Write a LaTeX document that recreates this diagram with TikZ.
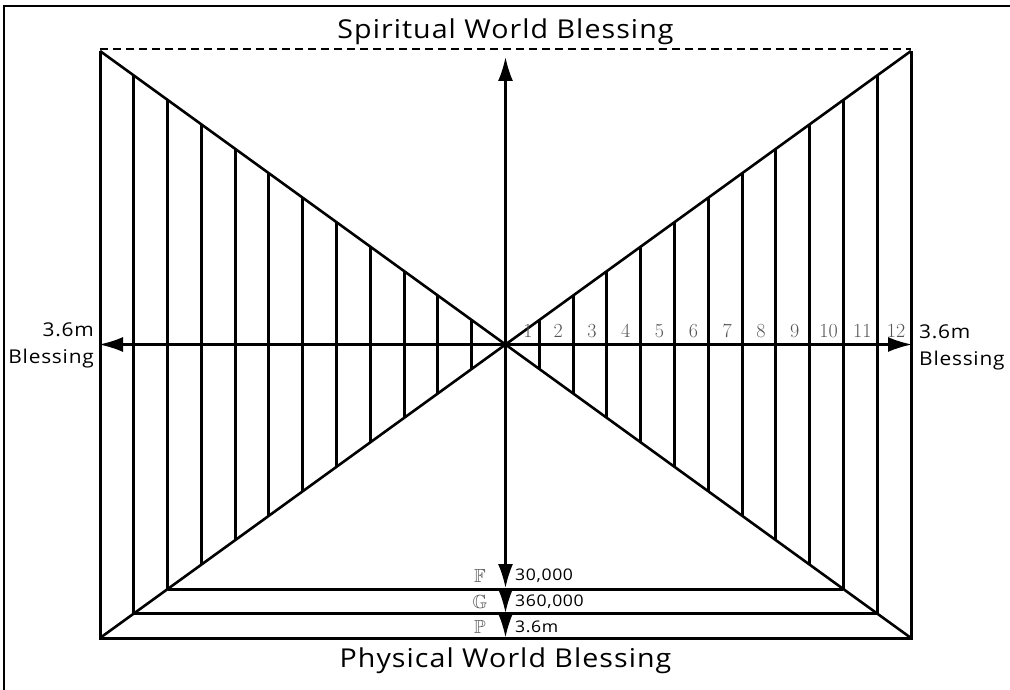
\documentclass[tikz,border=0pt]{standalone}
\usepackage{fontspec}
\usepackage{amssymb}
\newfontfamily\sansf[FakeStretch=1.1,LetterSpace=4]{Open Sans}
\usetikzlibrary{arrows.meta}
\definecolor{numgray}{RGB}{85,85,85}
\begin{document}
\begin{tikzpicture}[x=1pt,y=-1pt]
\useasboundingbox (0,0) rectangle (1010,690);
\tikzset{
  mainline/.style={line width=3pt},
  thinline/.style={line width=2.6pt},
  arr/.style={line width=2.2pt,-{Latex[length=24pt,width=15pt]}},
  bigtext/.style={font=\sansf\fontsize{26}{30}\selectfont, inner sep=1pt},
  sidetext/.style={font=\sansf\fontsize{19}{27}\selectfont, inner sep=0pt},
  numtext/.style={font=\fontsize{20}{22}\selectfont, text=numgray, inner sep=0pt},
  valtext/.style={font=\sansf\fontsize{16}{18}\selectfont, inner sep=0pt, anchor=west},
  lettext/.style={font=\fontsize{19}{20}\selectfont, text=numgray, inner sep=0pt},
}
% page frame
\draw[line width=2.5pt] (4,690) -- (4,6) -- (1010,6);
% key points
\coordinate (C) at (505.5,344.5);
\coordinate (TL) at (100,51);
\coordinate (TR) at (911,51);
\coordinate (BL) at (100,638);
\coordinate (BR) at (911,638);
\coordinate (Top) at (505.5,57);
\coordinate (Lft) at (99,344.5);
\coordinate (Rgt) at (912,344.5);
\coordinate (H3) at (505.5,588);
\coordinate (H2) at (505.5,613);
\coordinate (H1) at (505.5,637.5);
% dashed top
\draw[line width=2.2pt, dash pattern=on 8pt off 5pt] (100,49) -- (911,49);
\node[bigtext, fill=white] (title) at (505.5,32) {Spiritual World Blessing};
% outer border
\draw[mainline] (TL) -- (BL) -- (BR) -- (TR);
% diagonals
\draw[thinline] (TL) -- (BR);
\draw[thinline] (TR) -- (BL);
% verticals
\foreach \k in {1,...,11} {
  \pgfmathsetmacro\xl{100+\k*33.7917}
  \pgfmathsetmacro\xr{911-\k*33.7917}
  \pgfmathsetmacro\yt{51+\k*24.458}
  \pgfmathsetmacro\yb{638-\k*24.458}
  \draw[mainline] (\xl,\yt) -- (\xl,\yb);
  \draw[mainline] (\xr,\yt) -- (\xr,\yb);
}
% inner horizontals
\foreach \k in {1,2} {
  \pgfmathsetmacro\xl{100+\k*33.7917}
  \pgfmathsetmacro\xr{911-\k*33.7917}
  \pgfmathsetmacro\yb{638-\k*24.458}
  \draw[mainline] (\xl,\yb) -- (\xr,\yb);
}
% arrows
\draw[arr] (C) -- (Top);
\draw[arr] (C) -- (Lft);
\draw[arr] (C) -- (Rgt);
\draw[arr] (C) -- (H3);
\draw[arr] (H3) -- (H2);
\draw[arr] (H2) -- (H1);
% numbers
\node[numtext] (n1) at (528,331) {1};
\foreach \k in {2,...,12} {
  \pgfmathsetmacro\xc{505.5+(\k-0.5)*33.7917+2}
  \node[numtext] (n\k) at (\xc,331) {\k};
}
% side labels
\node[sidetext, align=right, anchor=east] (leftlbl) at (94,345) {3.6m\\Blessing};
\node[sidetext, align=left, anchor=west] (rightlbl) at (919,347) {3.6m\\Blessing};
% bottom labels
\node[lettext] (F) at (480,576) {$\mathbb{F}$};
\node[lettext] (G) at (480,602) {$\mathbb{G}$};
\node[lettext] (P) at (480,627) {$\mathbb{P}$};
\node[valtext] (vF) at (515,576) {30,000};
\node[valtext] (vG) at (515,602) {360,000};
\node[valtext] (vP) at (515,627) {3.6m};
\node[bigtext] (bottom) at (505.5,661) {Physical World Blessing};
\end{tikzpicture}
\end{document}
